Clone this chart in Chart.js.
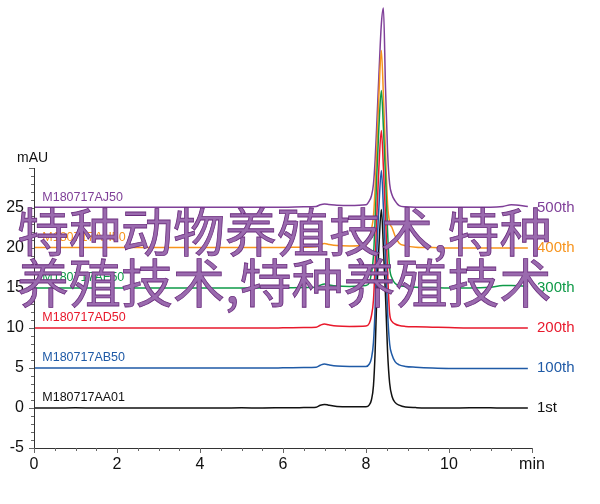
<!DOCTYPE html>
<html>
<head>
<meta charset="utf-8">
<script src="https://cdn.jsdelivr.net/npm/chart.js@4/dist/chart.umd.min.js"></script>
<style>
  html, body { margin: 0; padding: 0; background: #fff; }
  #wrap { position: relative; width: 600px; height: 504px; overflow: hidden; }
  #c { position: absolute; left: 0; top: 0; }
  #wm {
    position: absolute; left: 17px; top: 204px;
    font-family: "Noto Sans CJK SC", sans-serif;
    font-size: 52px; line-height: 51px; white-space: pre;
    color: #9a6aae; -webkit-text-stroke: 0.8px #6b2d7e;
    pointer-events: none;
  }
</style>
</head>
<body>
<div id="wrap">
  <canvas id="c" width="600" height="504"></canvas>
  <div id="wm">特种动物养殖技术,特种
养殖技术,特种养殖技术</div>
</div>
<script>
// ---- data ----
const times = [0, 0.5, 1, 1.5, 2, 2.5, 3, 3.5, 4, 4.5, 5, 5.5, 6, 6.5,
  6.8, 6.9, 7.0, 7.1, 7.3, 7.6,
  8.0, 8.08, 8.13, 8.18, 8.22, 8.26, 8.31, 8.37, 8.42, 8.47, 8.52, 8.57, 8.63, 8.7, 8.8, 8.95,
  9.2, 9.6, 10, 10.5, 11, 11.3, 11.5, 11.9];

const trace1st = [0, 0, 0.03, 0, 0, 0, 0, 0, 0, 0, 0.03, 0, 0.03, 0.05,
  0.1, 0.35, 0.45, 0.35, 0.2, 0.15,
  0.15, 0.4, 1.0, 2.8, 7, 14, 20, 24.8, 20, 14, 7, 3.1, 1.4, 0.7, 0.35, 0.12,
  0.05, 0, 0, 0.02, 0.02, 0, 0, 0];

const trace100th = [5, 5, 5, 5, 5, 5, 5, 5, 5, 5, 5, 5, 5.02, 5.05,
  5.1, 5.35, 5.5, 5.4, 5.25, 5.2,
  5.2, 5.5, 6.2, 8.2, 12.5, 19.5, 25, 29.7, 25, 19, 12, 8, 6.6, 5.8, 5.4, 5.2,
  5.1, 5.0, 4.95, 4.95, 4.95, 4.95, 4.95, 4.95];

const trace200th = [10, 10, 10, 10, 10, 10, 10, 10, 10, 10, 10, 10, 10.02, 10.05,
  10.1, 10.35, 10.5, 10.4, 10.25, 10.2,
  10.25, 10.6, 11.5, 13.5, 18, 24, 30, 34.7, 30, 24, 17, 11.8, 10.8, 10.5, 10.3, 10.2,
  10.15, 10.1, 10.05, 10, 10, 10, 10, 10];

const trace300th = [15, 15, 15, 15, 15, 15, 15, 15, 15, 15, 15, 15, 15.02, 15.05,
  15.1, 15.35, 15.5, 15.4, 15.25, 15.2,
  15.3, 15.7, 16.8, 19, 23.5, 29, 35, 39.7, 35, 29, 22, 17.5, 16.2, 15.6, 15.3, 15.2,
  15.1, 15.05, 15, 15, 15.1, 15.3, 15.3, 15.2];

const trace400th = [20.05, 20.05, 20.05, 20.05, 20.05, 20.05, 20.05, 20.05, 20.05, 20.05, 20.05, 20.05, 20.07, 20.1,
  20.15, 20.4, 20.55, 20.45, 20.3, 20.25,
  20.4, 21.2, 22.3, 24, 27.5, 32.5, 39, 44.7, 39, 32, 25.5, 23.2, 22.5, 21.5, 20.6, 20.3,
  20.1, 20.05, 20, 20, 20, 20, 20, 20];

const trace500th = [25.1, 25.1, 25.1, 25.1, 25.1, 25.1, 25.1, 25.1, 25.1, 25.1, 25.1, 25.1, 25.1, 25.15,
  25.2, 25.4, 25.5, 25.45, 25.35, 25.3,
  25.4, 25.9, 26.5, 28, 31, 35.5, 41.5, 48, 50, 40, 32, 28, 26.6, 25.9, 25.3, 25.15,
  25.1, 25.1, 25.1, 25.1, 25.1, 25.2, 25.4, 25.2];

const sampleNames = ['M180717AA01', 'M180717AB50', 'M180717AD50', 'M180717AF50', 'M180717AH50', 'M180717AJ50'];
const injectionLabels = ['1st', '100th', '200th', '300th', '400th', '500th'];
const baselines = [0, 5, 10, 15, 20, 25];
const colors = ['#111111', '#1f5aa6', '#e8192c', '#0f9a48', '#f7941d', '#7f3f98'];
const xTickLabels = ['0', '2', '4', '6', '8', '10', 'min'];
const yTickLabels = ['-5', '0', '5', '10', '15', '20', '25'];
const yAxisTitle = 'mAU';

const series = [trace1st, trace100th, trace200th, trace300th, trace400th, trace500th];

const datasets = series.map((vals, i) => ({
  label: injectionLabels[i],
  data: vals.map((v, k) => ({ x: times[k], y: v })),
  borderColor: colors[i],
  borderWidth: 1.5,
  pointRadius: 0,
  fill: false,
  cubicInterpolationMode: 'monotone',
  clip: false
}));

const FONT = "'Liberation Sans', Arial, Helvetica, sans-serif";

const decor = {
  id: 'decor',
  afterDatasetsDraw(chart) {
    const { ctx, chartArea: a, scales: { x, y } } = chart;
    ctx.save();
    ctx.strokeStyle = '#333';
    ctx.lineWidth = 1;
    ctx.beginPath();
    ctx.moveTo(a.left + 0.5, a.top);
    ctx.lineTo(a.left + 0.5, a.bottom + 0.5);
    ctx.lineTo(a.right, a.bottom + 0.5);
    ctx.stroke();
    ctx.strokeStyle = '#666';
    y.ticks.forEach(t => {
      const py = Math.round(y.getPixelForValue(t.value)) + 0.5;
      const len = (t.value % 5 === 0) ? 5 : 3;
      ctx.beginPath();
      ctx.moveTo(a.left - len, py);
      ctx.lineTo(a.left, py);
      ctx.stroke();
    });
    x.ticks.forEach(t => {
      const px = Math.round(x.getPixelForValue(t.value)) + 0.5;
      const len = (t.value % 2 === 0) ? 5 : 3;
      ctx.beginPath();
      ctx.moveTo(px, a.bottom);
      ctx.lineTo(px, a.bottom + len);
      ctx.stroke();
    });
    ctx.fillStyle = '#111';
    ctx.font = '14px ' + FONT;
    ctx.textAlign = 'left';
    ctx.textBaseline = 'middle';
    ctx.fillText(yAxisTitle, 17, a.top - 10);
    baselines.forEach((b, i) => {
      const py = y.getPixelForValue(b);
      ctx.fillStyle = colors[i];
      ctx.font = '12.5px ' + FONT;
      ctx.textAlign = 'left';
      ctx.textBaseline = 'middle';
      ctx.fillText(sampleNames[i], x.getPixelForValue(0.2), py - 10);
      ctx.font = '15px ' + FONT;
      ctx.fillText(injectionLabels[i], a.right + 5, py);
    });
    ctx.restore();
  }
};

new Chart(document.getElementById('c'), {
  type: 'line',
  data: { datasets },
  options: {
    responsive: false,
    animation: false,
    events: [],
    layout: { padding: { top: 168, right: 68, left: 0, bottom: 0 } },
    plugins: { legend: { display: false }, tooltip: { enabled: false } },
    scales: {
      x: {
        type: 'linear', min: 0, max: 12,
        grid: { display: false, drawTicks: false },
        border: { display: false },
        afterFit: s => { s.height = 56; },
        ticks: {
          stepSize: 0.5, autoSkip: false, maxRotation: 0, padding: 7,
          color: '#111', font: { family: FONT, size: 16 },
          callback: v => (v % 2 === 0 ? xTickLabels[v / 2] : '')
        }
      },
      y: {
        type: 'linear', min: -5, max: 30,
        grid: { display: false, drawTicks: false },
        border: { display: false },
        afterFit: s => { s.width = 34; },
        ticks: {
          stepSize: 1, autoSkip: false, padding: 10,
          color: '#111', font: { family: FONT, size: 16 },
          callback: v => (v % 5 === 0 && v < 30 ? yTickLabels[(v + 5) / 5] : '')
        }
      }
    }
  },
  plugins: [decor]
});
</script>
</body>
</html>
